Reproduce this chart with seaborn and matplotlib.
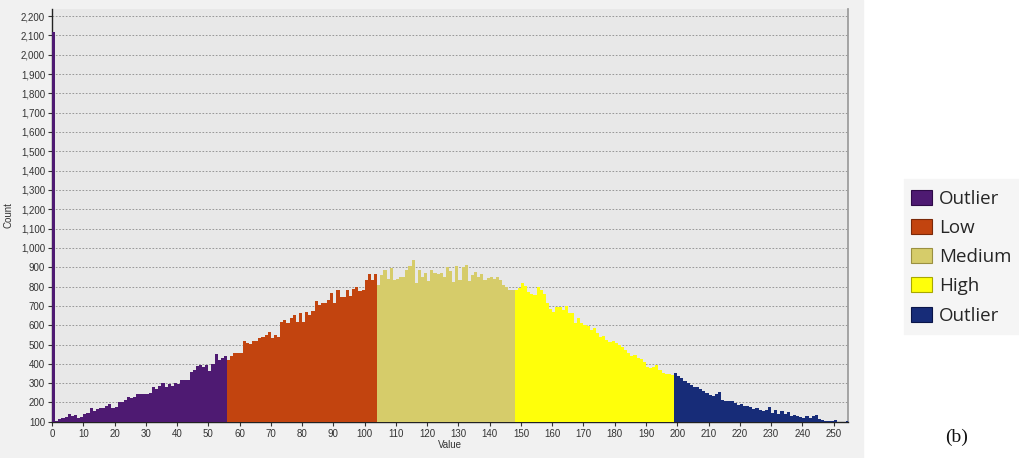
import numpy as np
import pandas as pd
import matplotlib
matplotlib.use("Agg")
import matplotlib.pyplot as plt
from matplotlib.patches import Patch
from matplotlib.ticker import FuncFormatter
import seaborn as sns

# ---- data (counts per value) ----
outlier_low = [2120, 104, 113, 121, 127, 142, 130, 135, 121, 127, 139, 148, 172, 156, 165,
               174, 174, 181, 191, 174, 176, 200, 205, 212, 226, 223, 230, 244, 244, 244,
               246, 247, 279, 270, 284, 300, 279, 296, 287, 300, 296, 317, 317, 318, 357,
               366, 390, 392, 383, 392, 362, 400, 450, 420, 430, 440]
low = [420, 441, 455, 455, 455, 520, 506, 501, 519, 519, 532, 538, 550, 563, 532, 550,
       541, 619, 628, 611, 637, 654, 619, 663, 619, 666, 654, 671, 723, 706, 714, 714,
       731, 766, 714, 780, 745, 748, 780, 752, 786, 800, 775, 780, 835, 866, 832, 866]
medium = [808, 860, 885, 837, 894, 834, 837, 851, 848, 885, 906, 937, 817, 888, 851,
          868, 830, 885, 871, 865, 871, 851, 899, 882, 825, 906, 834, 903, 911, 830,
          860, 877, 848, 865, 834, 842, 851, 837, 848, 834, 808, 800, 782, 782]
high = [782, 790, 820, 803, 774, 762, 757, 800, 780, 762, 714, 683, 666, 693, 693, 680,
        700, 662, 662, 610, 636, 610, 601, 596, 575, 584, 558, 541, 544, 523, 515, 520,
        510, 498, 486, 472, 458, 441, 446, 429, 424, 407, 386, 377, 386, 394, 368, 355,
        350, 345, 340]
outlier_high = [351, 337, 325, 310, 299, 290, 282, 278, 268, 258, 251, 239, 234, 244, 256,
                211, 206, 206, 206, 197, 189, 190, 184, 180, 177, 167, 172, 163, 154, 160,
                177, 146, 160, 142, 154, 142, 149, 132, 137, 129, 125, 120, 129, 120, 129,
                135, 115, 108, 103, 103, 103, 108, 98, 98, 98, 103, 100]

class_keys = ["Outlier_low", "Low", "Medium", "High", "Outlier_high"]
legend_labels = ["Outlier", "Low", "Medium", "High", "Outlier"]
class_colors = ["#4E1A72", "#C2440F", "#D6CC6A", "#FFFF0A", "#172C78"]
class_edges = ["#2E0A48", "#7A2808", "#9A9040", "#A8A800", "#0A1548"]
series = [outlier_low, low, medium, high, outlier_high]

y_ticks = list(range(100, 2201, 100))
x_ticks = list(range(0, 251, 10))

rows = []
start = 0
for key, vals in zip(class_keys, series):
    for i, c in enumerate(vals):
        rows.append((start + i, c, key))
    start += len(vals)
df = pd.DataFrame(rows, columns=["value", "count", "cls"])
df["center"] = df["value"] + 0.5  # each bin spans [value, value+1)

# ---- plot ----
sns.set_theme(style="white")
plt.rcParams["font.family"] = ["Liberation Sans", "DejaVu Sans"]

fig = plt.figure(figsize=(10.2, 4.58), dpi=100)
fig.patch.set_facecolor("white")
bg = plt.Rectangle((0, 0), 0.846, 1, transform=fig.transFigure, color="#F1F1F1", zorder=-10)
fig.patches.append(bg)
bg2 = plt.Rectangle((0.886, 0.27), 0.112, 0.34, transform=fig.transFigure, color="#F5F5F5", zorder=-10)
fig.patches.append(bg2)

ax = fig.add_axes([0.051, 0.079, 0.780, 0.902])
ax.set_facecolor("#E8E8E8")

sns.barplot(data=df, x="center", y="count", hue="cls", hue_order=class_keys,
            palette=dict(zip(class_keys, class_colors)), native_scale=True,
            width=1.0, dodge=False, saturation=1, errorbar=None, linewidth=0,
            legend=False, ax=ax, zorder=3)

ax.set_xlim(0, 254.5)
ax.set_ylim(100, 2238)
ax.set_xticks(x_ticks)
ax.set_yticks(y_ticks)
ax.xaxis.set_major_formatter(FuncFormatter(lambda v, p: f"{int(round(v))}"))
ax.yaxis.set_major_formatter(FuncFormatter(lambda v, p: f"{int(v):,}"))
ax.tick_params(axis="both", labelsize=7, colors="#333333", length=3, width=0.8,
               direction="out", bottom=True, left=True, pad=2)

ax.grid(axis="y", color="#8A8A8A", linestyle=(0, (2, 2)), linewidth=0.6, zorder=0)
ax.grid(axis="x", visible=False)
ax.set_axisbelow(True)

ax.spines["top"].set_visible(False)
ax.spines["left"].set_color("#222222")
ax.spines["bottom"].set_color("#222222")
ax.spines["right"].set_color("#9A9A9A")
ax.spines["left"].set_linewidth(1.0)
ax.spines["bottom"].set_linewidth(1.0)

ax.set_xlabel("Value", fontsize=7, color="#333333", labelpad=1)
ax.set_ylabel("Count", fontsize=7, color="#333333", labelpad=5)

handles = [Patch(facecolor=c, edgecolor=e, linewidth=0.8) for c, e in zip(class_colors, class_edges)]
fig.legend(handles, legend_labels, loc="upper left", bbox_to_anchor=(0.893, 0.586),
           frameon=False, prop={"family": ["Open Sans", "DejaVu Sans"], "size": 13.5},
           handlelength=1.15, handleheight=0.85, labelspacing=0.6, handletextpad=0.35,
           borderaxespad=0, borderpad=0)

fig.text(0.938, 0.045, "(b)", fontsize=14, family=["Liberation Serif", "DejaVu Serif"],
         ha="center", va="center", color="#111111")

fig.savefig("out.png", dpi=100)
